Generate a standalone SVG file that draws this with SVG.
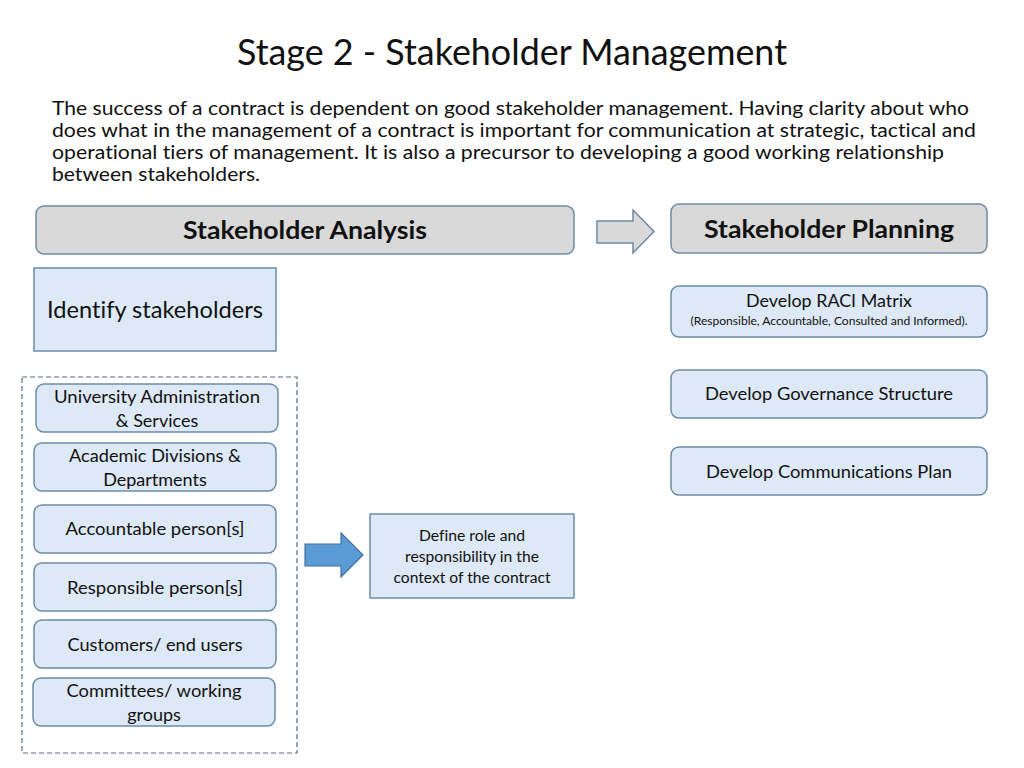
<svg xmlns="http://www.w3.org/2000/svg" width="1024" height="768" viewBox="0 0 1024 768">
<style>
.t{font-family:Lato,"Liberation Sans",sans-serif;fill:#111111;font-variant-ligatures:none}
.hdr{fill:#d9d9d9;stroke:#6c8aa8;stroke-width:1.5}
.box{fill:#dde9f6;stroke:#6c8aa8;stroke-width:1.5}
.c{text-anchor:middle}
</style>
<rect width="1024" height="768" fill="#ffffff"/>
<text class="t c" x="512" y="65" font-size="37" textLength="550" lengthAdjust="spacingAndGlyphs">Stage 2 - Stakeholder Management</text>
<g font-size="18.5">
<text class="t" x="52" y="115" textLength="917" lengthAdjust="spacingAndGlyphs">The success of a contract is dependent on good stakeholder management. Having clarity about who</text>
<text class="t" x="52" y="137" textLength="924" lengthAdjust="spacingAndGlyphs">does what in the management of a contract is important for communication at strategic, tactical and</text>
<text class="t" x="52" y="159" textLength="892" lengthAdjust="spacingAndGlyphs">operational tiers of management. It is also a precursor to developing a good working relationship</text>
<text class="t" x="52" y="181" textLength="208" lengthAdjust="spacingAndGlyphs">between stakeholders.</text>
</g>
<g id="analysis"><rect class="hdr" x="36" y="206" width="538" height="48" rx="8"/><text class="t c" x="305" y="239" font-size="24.5" font-weight="bold" textLength="244" lengthAdjust="spacingAndGlyphs">Stakeholder Analysis</text></g>
<g id="planning"><rect class="hdr" x="671" y="204" width="316" height="49" rx="8"/><text class="t c" x="829" y="238" font-size="24.5" font-weight="bold" textLength="250" lengthAdjust="spacingAndGlyphs">Stakeholder Planning</text></g>
<g id="identify"><rect class="box" x="34" y="268" width="242" height="83"/><text class="t c" x="155" y="318" font-size="24" textLength="216" lengthAdjust="spacingAndGlyphs">Identify stakeholders</text></g>
<rect x="22" y="377" width="275" height="376" fill="none" stroke="#5a6b7e" stroke-width="1.2" stroke-dasharray="5,3"/>
<g font-size="18">
<g id="univ"><rect class="box" x="36" y="384" width="242" height="48" rx="8"/><text class="t c" x="157" y="403" textLength="206" lengthAdjust="spacingAndGlyphs">University Administration</text><text class="t c" x="157" y="427">&amp; Services</text></g>
<g id="acad"><rect class="box" x="34" y="443" width="242" height="48" rx="8"/><text class="t c" x="155" y="462" textLength="172" lengthAdjust="spacingAndGlyphs">Academic Divisions &amp;</text><text class="t c" x="155" y="486">Departments</text></g>
<g id="accountable"><rect class="box" x="34" y="505" width="242" height="48" rx="8"/><text class="t c" x="155" y="535" textLength="179" lengthAdjust="spacingAndGlyphs">Accountable person[s]</text></g>
<g id="responsible"><rect class="box" x="34" y="563" width="242" height="48" rx="8"/><text class="t c" x="155" y="594" textLength="176" lengthAdjust="spacingAndGlyphs">Responsible person[s]</text></g>
<g id="customers"><rect class="box" x="34" y="620" width="242" height="48" rx="8"/><text class="t c" x="155" y="651" textLength="175" lengthAdjust="spacingAndGlyphs">Customers/ end users</text></g>
<g id="committees"><rect class="box" x="33" y="678" width="242" height="48" rx="8"/><text class="t c" x="154" y="697" textLength="175" lengthAdjust="spacingAndGlyphs">Committees/ working</text><text class="t c" x="154" y="721">groups</text></g>
</g>
<g id="define"><rect class="box" x="370" y="514" width="204" height="84"/>
<g font-size="15.5"><text class="t c" x="472" y="541" textLength="106" lengthAdjust="spacingAndGlyphs">Define role and</text><text class="t c" x="472" y="562" textLength="134" lengthAdjust="spacingAndGlyphs">responsibility in the</text><text class="t c" x="472" y="583" textLength="157" lengthAdjust="spacingAndGlyphs">context of the contract</text></g></g>
<g id="raci"><rect class="box" x="671" y="286" width="316" height="51" rx="8"/><text class="t c" x="829" y="307" font-size="17.5" textLength="166" lengthAdjust="spacingAndGlyphs">Develop RACI Matrix</text><text class="t c" x="829" y="325" font-size="12" textLength="277" lengthAdjust="spacingAndGlyphs">(Responsible, Accountable, Consulted and Informed).</text></g>
<g id="governance"><rect class="box" x="671" y="370" width="316" height="48" rx="8"/><text class="t c" x="829" y="400" font-size="18" textLength="248" lengthAdjust="spacingAndGlyphs">Develop Governance Structure</text></g>
<g id="comms"><rect class="box" x="671" y="447" width="316" height="48" rx="8"/><text class="t c" x="829" y="478" font-size="18" textLength="246" lengthAdjust="spacingAndGlyphs">Develop Communications Plan</text></g>
<g id="connectors">
<path d="M597,221 H633 V210 L654,231.5 L633,253 V243 H597 Z" fill="#d9d9d9" stroke="#6c8aa8" stroke-width="1.5"/>
<path d="M305,544 H341 V533 L363,555 L341,577 V566 H305 Z" fill="#5b9bd5" stroke="#41719c" stroke-width="1.2"/>
</g>
</svg>
